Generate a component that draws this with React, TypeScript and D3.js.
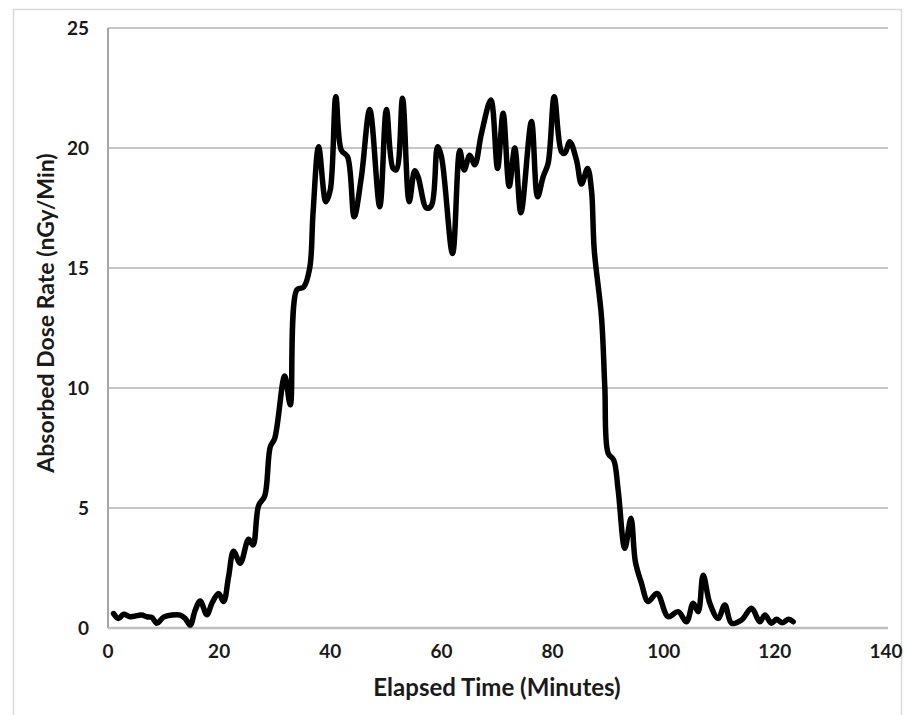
import React from 'react'
import * as d3 from 'd3'

// elapsed time (minutes) and absorbed dose rate (nGy/min)
const minutes = [
  1, 1.9, 2.8, 4, 6, 7, 7.9, 8.8, 10, 11.5, 13, 13.9, 14.8, 15.7, 16.6, 17.8, 18.7, 19.9, 20.8,
  21.7, 22.6, 23.8, 25.3, 26.1, 27.1, 28.2, 29.2, 30, 31.8, 32.8, 34, 35.2, 36.3, 36.9, 37.9,
  39.2, 40, 41, 42, 43.1, 44.3, 45.6, 47.1, 48.9, 50.1, 51.3, 51.9, 53, 54.2, 55.2, 55.8, 57.3,
  58.2, 59.3, 60, 62, 63.3, 64.1, 65.1, 66, 67.2, 68.9, 70.1, 71.1, 72.2, 73.2, 74.3, 76.2, 77.3,
  78.3, 79.2, 80.3, 81.6, 82.2, 83.1, 84.3, 85.2, 86.3, 87, 87.5, 88.8, 89.4, 90, 91, 91.8, 93,
  94.1, 94.9, 96, 97.2, 98.8, 100.8, 102.6, 104.1, 105.3, 106.2, 107.1, 108.3, 109.8, 111, 112.2,
  114, 115.8, 117.3, 118.2, 119.4, 120.3, 121.3, 122.5, 123.3,
]
const doseRate = [
  0.6, 0.4, 0.57, 0.47, 0.54, 0.47, 0.44, 0.2, 0.45, 0.54, 0.54, 0.4, 0.12, 0.75, 1.12, 0.55, 1.03, 1.44, 1.1,
  2.14, 3.2, 2.7, 3.7, 3.46, 5.1, 5.5, 7.55, 7.9, 10.5, 9.3, 14.1, 14.2, 15.0, 17.3, 20.05,
  17.76, 18.25, 22.14, 19.9, 19.64, 17.14, 18.8, 21.6, 17.55, 21.6, 19.15, 19.1, 22.07, 17.76, 19.05, 18.8, 17.5,
  17.6, 20.05, 19.64, 15.6, 19.9, 19.08, 19.7, 19.3, 20.6, 22.0, 19.15, 21.45, 18.4, 20.0, 17.3, 21.1, 17.97,
  18.8, 19.36, 22.14, 19.85, 19.78, 20.26, 19.5, 18.5, 19.15, 18.25, 15.75, 12.97, 10.05, 7.28, 7.0, 5.75, 3.32,
  4.57, 2.76, 1.86, 1.1, 1.44, 0.47, 0.68, 0.26, 1.03, 0.68, 2.2, 1.03, 0.4, 0.96, 0.2,
  0.33, 0.82, 0.26, 0.54, 0.2, 0.36, 0.22, 0.36, 0.26,
]
const xTicks = [0, 20, 40, 60, 80, 100, 120, 140]
const yTicks = [0, 5, 10, 15, 20, 25]

const W = 906
const H = 715
const left = 108
const right = 886
const top = 28
const bottom = 628
const font = 'Lato, "Open Sans", sans-serif'

export default function App() {
  const x = d3.scaleLinear().domain([0, 140]).range([left, right])
  const y = d3.scaleLinear().domain([0, 25]).range([bottom, top])
  const pts: [number, number][] = minutes.map((m, i) => [m, doseRate[i]])
  const line = d3.line<[number, number]>()
    .x(d => x(d[0]))
    .y(d => y(d[1]))
    .curve(d3.curveCatmullRom.alpha(0.5))

  return (
    <svg width={W} height={H} style={{ position: 'absolute', left: 0, top: 0 }}>
      <rect x={0} y={0} width={W} height={H} fill="#fff" />
      <rect x={13.5} y={9.5} width={888} height={720} fill="none" stroke="#d9d9d9" strokeWidth={1.5} />
      {yTicks.filter(t => t > 0).map(t => (
        <line key={t} x1={left} x2={right + 2} y1={y(t)} y2={y(t)} stroke="#8c8c8c" strokeWidth={1.2} />
      ))}
      <line x1={left} x2={left} y1={top} y2={bottom} stroke="#a6a6a6" strokeWidth={2} />
      <line x1={left} x2={right + 2} y1={bottom} y2={bottom} stroke="#bfbfbf" strokeWidth={2.5} />
      {yTicks.map(t => (
        <text key={t} x={89} y={y(t)} dy="0.35em" textAnchor="end" fontFamily={font}
          fontWeight="bold" fontSize={19} fill="#1a1a1a">{t}</text>
      ))}
      {xTicks.map(t => (
        <text key={t} x={x(t)} y={651} dy="0.35em" textAnchor="middle" fontFamily={font}
          fontWeight="bold" fontSize={19} fill="#1a1a1a">{t}</text>
      ))}
      <text x={497} y={688} dy="0.35em" textAnchor="middle" fontFamily={font}
        fontWeight="bold" fontSize={24} fill="#1a1a1a">Elapsed Time (Minutes)</text>
      <text transform={`translate(46,${313}) rotate(-90)`} dy="0.35em" textAnchor="middle"
        fontFamily={font} fontWeight="bold" fontSize={23} fill="#1a1a1a">Absorbed Dose Rate (nGy/Min)</text>
      <path d={line(pts) ?? ''} fill="none" stroke="#000" strokeWidth={5.5}
        strokeLinejoin="round" strokeLinecap="round" />
    </svg>
  )
}
